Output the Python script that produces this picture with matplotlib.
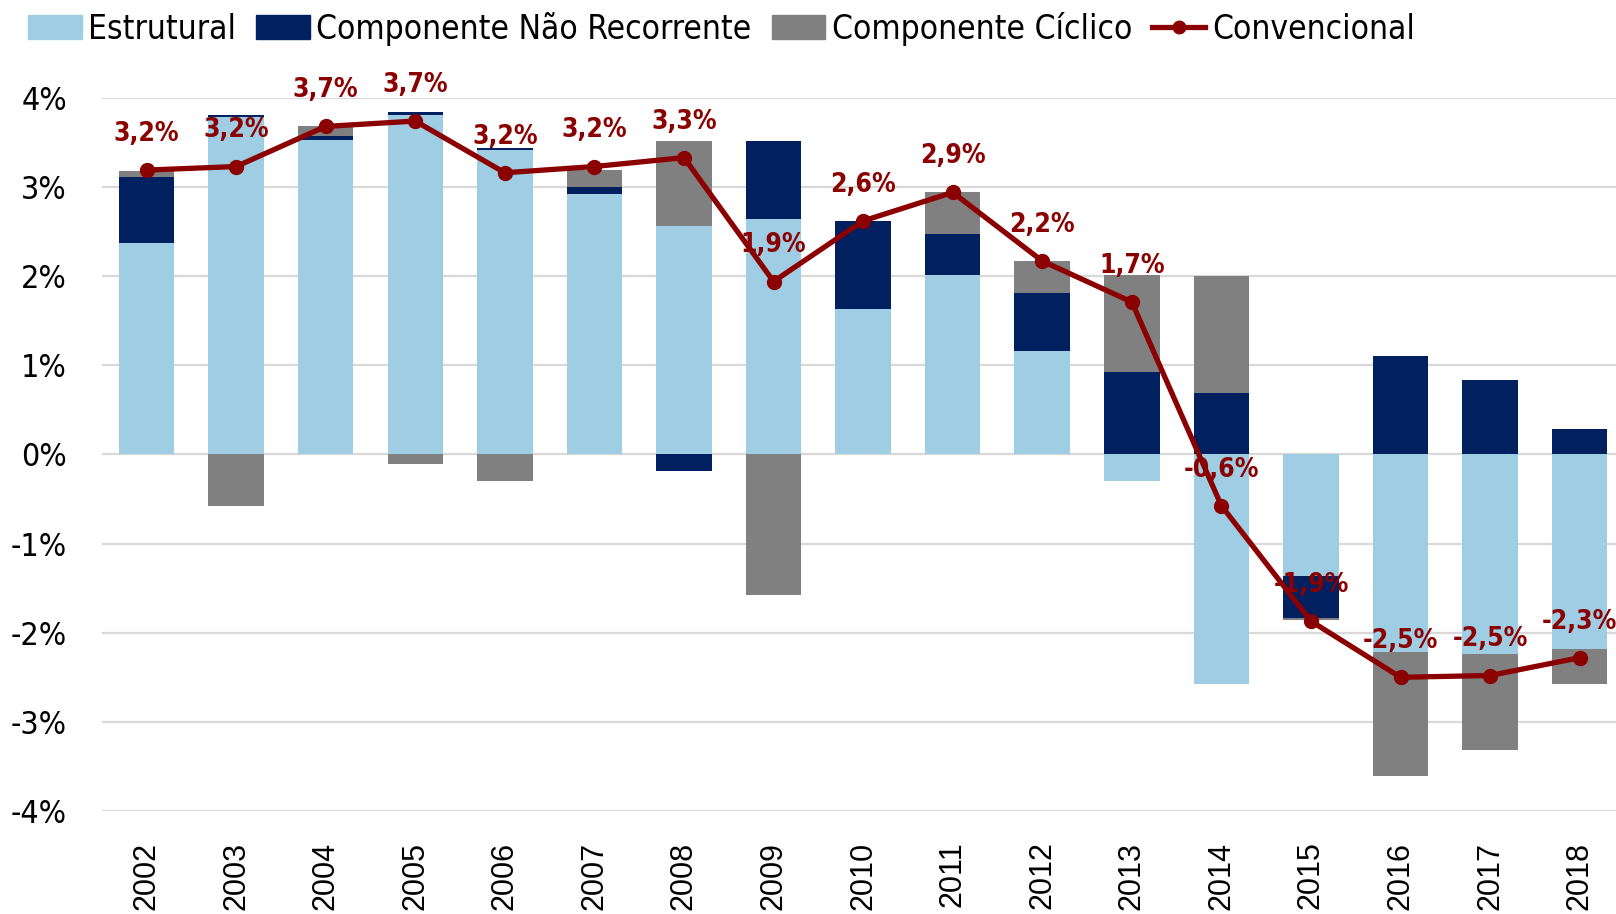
import numpy as np
import matplotlib.pyplot as plt
from matplotlib.lines import Line2D
from matplotlib.patches import Patch

years = [str(y) for y in range(2002, 2019)]
estrutural = [2.37, 3.78, 3.53, 3.81, 3.42, 2.92, 2.565, 2.64, 1.63, 2.015, 1.165, -0.30,
              -2.58, -1.365, -2.22, -2.24, -2.18]
nao_recorrente = [0.74, 0.03, 0.045, 0.03, 0.02, 0.075, -0.19, 0.88, 0.99, 0.46, 0.645, 0.93,
                  0.69, -0.47, 1.10, 0.84, 0.29]
ciclico = [0.075, -0.58, 0.11, -0.105, -0.30, 0.20, 0.95, -1.58, 0.0, 0.465, 0.365, 1.08,
           1.31, -0.025, -1.39, -1.08, -0.40]
convencional = [3.19, 3.23, 3.68, 3.74, 3.16, 3.23, 3.33, 1.94, 2.62, 2.94, 2.17, 1.71,
                -0.575, -1.87, -2.50, -2.48, -2.28]

series = [("Estrutural", estrutural, "#9FCEE4"),
          ("Componente Não Recorrente", nao_recorrente, "#002060"),
          ("Componente Cíclico", ciclico, "#808080")]
red = "#8B0000"

cond = dict(family="DejaVu Sans", stretch="condensed")

fig = plt.figure(figsize=(16.16, 9.14), dpi=100)
ax = fig.add_axes([0.063, 0.1127, 0.94, 0.7802])

x = np.arange(len(years))
pos_base = np.zeros(len(years))
neg_base = np.zeros(len(years))
for name, vals, color in series:
    v = np.array(vals)
    base = np.where(v >= 0, pos_base, neg_base)
    ax.bar(x, v, 0.62, bottom=base, color=color, zorder=2)
    pos_base += np.where(v >= 0, v, 0)
    neg_base += np.where(v < 0, v, 0)

ax.plot(x, convencional, color=red, lw=3.8, marker="o", ms=10, zorder=4)
for xi, val in zip(x, convencional):
    txt = f"{val:.1f}%".replace(".", ",")
    ax.annotate(txt, (xi, val), xytext=(0, 26), textcoords="offset points",
                ha="center", va="center", color=red, fontsize=19,
                fontweight="bold", zorder=5, annotation_clip=False, **cond)

ax.set_ylim(-4, 4)
ax.set_xlim(-0.5, 16.46)
ax.set_yticks(range(-4, 5))
ax.set_yticklabels([f"{t}%" for t in range(-4, 5)], fontsize=23, **cond)
ax.set_xticks(x)
ax.set_xticklabels(years, rotation=90, family=["Liberation Sans", "DejaVu Sans"], fontsize=22)
ax.tick_params(length=0)
ax.tick_params(axis="y", pad=25)
ax.tick_params(axis="x", pad=22)
ax.grid(axis="y", color="#D9D9D9", lw=1.6, zorder=0)
ax.set_axisbelow(True)
for s in ax.spines.values():
    s.set_visible(False)

handles = [Patch(color=c) for _, _, c in series]
handles.append(Line2D([], [], color=red, lw=3.8, marker="o", ms=9))
labels = [n for n, _, _ in series] + ["Convencional"]
fig.legend(handles, labels, loc="upper left", bbox_to_anchor=(-0.001, 1.02), ncol=4,
           frameon=False, prop=dict(size=24, **cond),
           handlelength=1.6, handleheight=0.7, handletextpad=0.2, columnspacing=0.6)

fig.savefig("out.png", dpi=100)
